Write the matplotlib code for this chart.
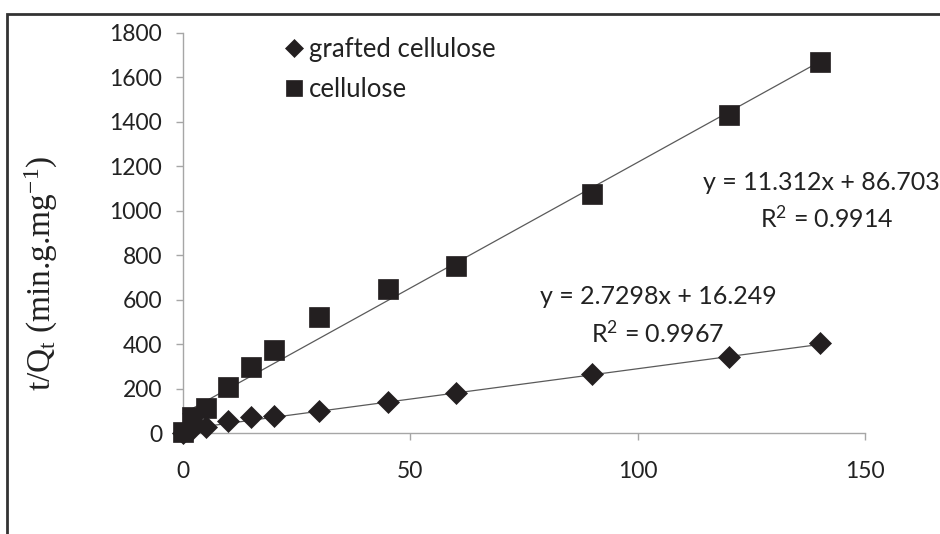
import matplotlib
matplotlib.use("Agg")
import matplotlib.pyplot as plt
from matplotlib.patches import Rectangle
import numpy as np

# Data
t_grafted = [0, 2, 5, 10, 15, 20, 30, 45, 60, 90, 120, 140]
q_grafted = [0, 20, 28, 55, 71, 76, 100, 138, 179, 265, 343, 404]
t_cell = [0, 2, 5, 10, 15, 20, 30, 45, 60, 90, 120, 140]
q_cell = [5, 72, 111, 206, 296, 373, 521, 647, 751, 1075, 1430, 1668]
fit_grafted = (2.7298, 16.249)
fit_cell = (11.312, 86.703)
x_ticks = [0, 50, 100, 150]
y_ticks = [0, 200, 400, 600, 800, 1000, 1200, 1400, 1600, 1800]

plt.rcParams['font.family'] = ['Lato', 'DejaVu Sans']
plt.rcParams['mathtext.fontset'] = 'custom'
plt.rcParams['mathtext.rm'] = 'Lato'
plt.rcParams['mathtext.it'] = 'Lato'

W, H = 940, 534
fig = plt.figure(figsize=(W / 100, H / 100), dpi=100)
ax = fig.add_axes([183 / W, 1 - 433 / H, (865 - 183) / W, (433 - 33) / H])

mcol = '#231f20'
lcol = '#5a5a5a'
tcol = '#222222'

# trend lines
xs = np.array([0, 140])
ax.plot(xs, fit_grafted[0] * xs + fit_grafted[1], color=lcol, lw=0.9, zorder=2, clip_on=False)
ax.plot(xs, fit_cell[0] * xs + fit_cell[1], color=lcol, lw=0.9, zorder=2, clip_on=False)

ax.plot(t_grafted, q_grafted, linestyle='none', marker='D', ms=11, color=mcol,
        mec=mcol, mew=0.5, clip_on=False, zorder=3, label='grafted cellulose')
ax.plot(t_cell, q_cell, linestyle='none', marker='s', ms=14.5, color=mcol,
        mec=mcol, mew=0.5, clip_on=False, zorder=3, label='cellulose')

ax.set_xlim(0, 150)
ax.set_ylim(0, 1800)
ax.set_xticks(x_ticks)
ax.set_yticks(y_ticks)
ax.set_xticklabels([str(v) for v in x_ticks])
ax.set_yticklabels([str(v) for v in y_ticks])

for s in ['top', 'right']:
    ax.spines[s].set_visible(False)
for s in ['left', 'bottom']:
    ax.spines[s].set_color('#a6a6a6')
    ax.spines[s].set_linewidth(1.0)

ax.tick_params(axis='x', length=5, width=1, color='#a6a6a6', pad=15,
               labelsize=16.5, labelcolor=tcol)
ax.tick_params(axis='y', length=5, width=1, color='#a6a6a6', pad=10,
               labelsize=16.5, labelcolor=tcol)

ax.set_ylabel(r'$\mathregular{t/Q_t}$ (min.g.mg$\mathregular{^{-1}}$)',
              family='Liberation Serif', fontsize=24, color=tcol)
ax.yaxis.set_label_coords(-0.18, 0.40)

leg = ax.legend(loc='upper left', bbox_to_anchor=(0.115, 1.035), frameon=False,
                fontsize=18.5, handletextpad=0.0, handlelength=1.15,
                labelspacing=0.6, markerscale=0.8, borderaxespad=0.3)
for t in leg.get_texts():
    t.set_color(tcol)


def put(px, py, s):
    ax.text(px, H - py, s, transform=None, fontsize=18, color=tcol,
            ha='center', va='center')


# equations
put(821, 183, 'y = 11.312x + 86.703')
put(827, 218, r'R$^{2}$ = 0.9914')
put(658, 297, 'y = 2.7298x + 16.249')
put(658, 333, r'R$^{2}$ = 0.9967')

# outer frame (left & top visible)
fig.patches.append(Rectangle((7 / W, -0.1), 1.1, 1 - 14 / H + 0.1,
                             transform=fig.transFigure, fill=False,
                             edgecolor='#333333', lw=2))

fig.savefig('out.png', dpi=100)
